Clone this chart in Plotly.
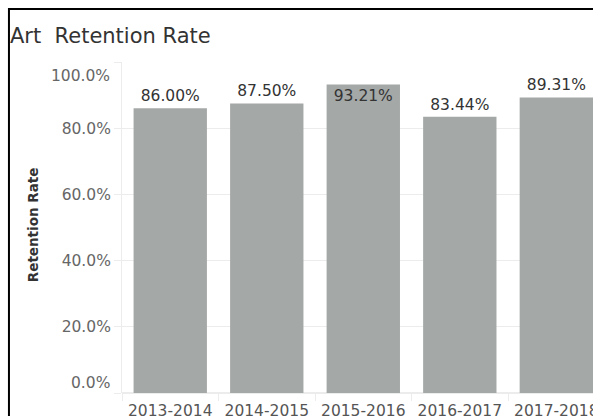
import plotly.graph_objects as go

# Данные
years = ["2013-2014", "2014-2015", "2015-2016", "2016-2017", "2017-2018"]
retention = [0.8600, 0.8750, 0.9321, 0.8344, 0.8931]
y_ticks = [0.0, 0.2, 0.4, 0.6, 0.8, 1.0]

FONT = "DejaVu Sans"
GRID = "#ececec"

# Метка внутри столбца, если до верха осталось мало места
text_pos = ["inside" if v > 0.92 else "outside" for v in retention]

fig = go.Figure()

fig.add_trace(go.Bar(
    x=years,
    y=retention,
    text=[f"{v:.2%}" for v in retention],
    textposition=text_pos,
    insidetextanchor="end",
    textfont=dict(family=FONT, size=15.5, color="#333333"),
    insidetextfont=dict(family=FONT, size=15.5, color="#333333"),
    outsidetextfont=dict(family=FONT, size=15.5, color="#333333"),
    marker=dict(color="#a4a8a7", line=dict(width=0)),
    cliponaxis=False,
    hoverinfo="skip",
))

# крайние подписи оси Y сдвинуты внутрь, как в Tableau
tick_text = ["" if v in (0.0, 1.0) else f"{v:.1%}" for v in y_ticks]
annotations = []
for v, shift in ((y_ticks[0], 10), (y_ticks[-1], -14)):
    annotations.append(dict(
        x=0, xref="paper", y=v, yref="y",
        xanchor="right", yanchor="middle",
        xshift=-10, yshift=shift,
        text=f"{v:.1%}", showarrow=False,
        font=dict(family=FONT, size=15.5, color="#666666"),
    ))

annotations.append(dict(
    x=-0.189, xref="paper", y=0.51, yref="paper",
    text="<b>Retention Rate</b>", textangle=-90, showarrow=False,
    xanchor="center", yanchor="middle",
    font=dict(family=FONT, size=13.5, color="#333333"),
))

fig.update_layout(
    width=593,
    height=416,
    margin=dict(l=122, r=0, t=62, b=23),
    paper_bgcolor="white",
    plot_bgcolor="white",
    bargap=0.24,
    showlegend=False,
    title=dict(
        text="Art  Retention Rate",
        x=10 / 593, xref="container", xanchor="left",
        y=1 - 36 / 416, yref="container", yanchor="middle",
        font=dict(family=FONT, size=21, color="#333333"),
    ),
    annotations=annotations,
    shapes=[dict(
        type="rect", xref="paper", yref="paper",
        x0=-0.24, x1=1.1, y0=-0.3, y1=1.16,
        line=dict(color="black", width=2),
        fillcolor="rgba(0,0,0,0)",
        layer="above",
    )],
)

fig.update_xaxes(
    range=[-0.5, 4.38],
    tickson="boundaries",
    ticks="outside",
    ticklen=7,
    tickcolor=GRID,
    ticklabelstandoff=6,
    showline=False,
    showgrid=False,
    zeroline=False,
    automargin=False,
    tickfont=dict(family=FONT, size=15.5, color="#555555"),
)

fig.update_yaxes(
    range=[0, 1.0],
    tickvals=y_ticks,
    ticktext=tick_text,
    ticks="outside",
    ticklen=7,
    tickcolor=GRID,
    showgrid=True,
    gridcolor=GRID,
    gridwidth=1,
    showline=True,
    linecolor=GRID,
    zeroline=True,
    zerolinecolor=GRID,
    automargin=False,
    tickfont=dict(family=FONT, size=15.5, color="#666666"),
)

# убираем стандартный отступ body, чтобы график начинался с (0, 0)
fig.write_html(
    "out.html",
    config={"displayModeBar": False},
    post_script="document.body.style.margin='0';"
                "document.documentElement.style.overflow='hidden';",
)
